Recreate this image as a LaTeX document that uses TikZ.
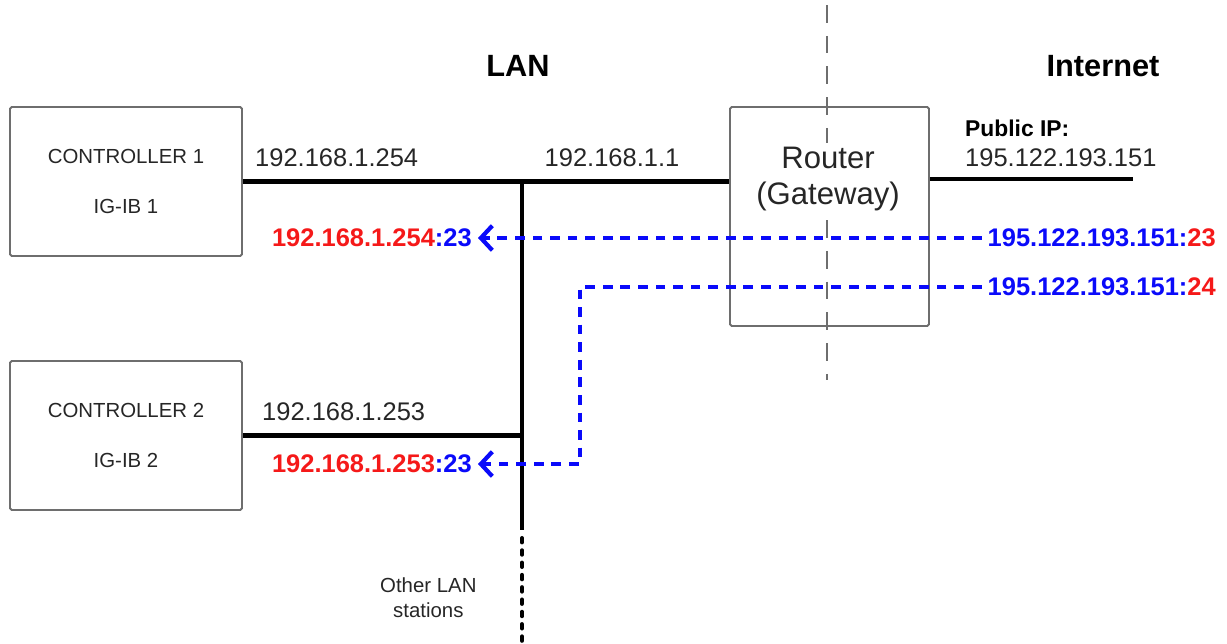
\documentclass[tikz,border=0pt]{standalone}
\usepackage{fontspec}
\setmainfont{Liberation Sans}
\usepackage{tikz}
\usetikzlibrary{arrows.meta,positioning}

\definecolor{ipred}{RGB}{245,25,25}
\definecolor{ipblue}{RGB}{10,10,250}
\definecolor{boxgray}{RGB}{110,110,110}

\begin{document}
\begin{tikzpicture}[x=0.02cm,y=-0.02cm,
  ctrl/.style={draw=boxgray,line width=1.1pt,rounded corners=1pt,
               minimum width=4.64cm,minimum height=2.98cm,align=center,
               text=black!85,font=\fontsize{11.6}{28.9}\selectfont},
  rtrbox/.style={draw=boxgray,line width=1.1pt,rounded corners=1pt,
                 minimum width=3.98cm,minimum height=4.38cm},
  ip/.style={font=\fontsize{14.5}{17}\selectfont,text=black!85},
  fwd/.style={font=\bfseries\fontsize{14.5}{17}\selectfont},
  head/.style={font=\bfseries\fontsize{17.5}{20}\selectfont},
  wire/.style={line width=2.3pt},
  nat/.style={draw=ipblue,line width=2.3pt,dash pattern=on 5.5pt off 4.5pt,
              -{Straight Barb[length=6.5pt,width=14pt,line width=2.4pt]}}
]
\useasboundingbox (0,0) rectangle (1227,643);

% boxes
\node[ctrl] (ctrla) at (126,181.5) {CONTROLLER 1\\IG-IB 1};
\node[ctrl] (ctrlb) at (126,435.5) {CONTROLLER 2\\IG-IB 2};
\node[rtrbox] (rtr) at (829.5,216.5) {};

% LAN / Internet divider
\coordinate (divtop) at (827,5);
\coordinate (divbot) at (827,380);
\draw[boxgray,line width=1.2pt,dash pattern=on 10pt off 7.5pt] (divtop) -- (divbot);
\node[align=center,fill=white,inner sep=2pt,text=black!85,
      font=\fontsize{17.7}{21}\selectfont] (rtrtxt) at (828,179) {Router\\(Gateway)};

\node[head] (lan) at (518,66) {LAN};
\node[head] (inet) at (1103,66) {Internet};

% wiring
\coordinate (bustop) at (522,182);
\coordinate (busend) at (522,530);
\coordinate (busdot) at (522,643);
\coordinate (wan) at (1133,179);
\draw[wire] (ctrla.east) -- (ctrla.east -| rtr.west);
\draw[wire] (bustop) -- (busend);
\draw[wire,line cap=round,dash pattern=on 2.5pt off 4.5pt] (busend) ++(0,8) -- (busdot);
\draw[wire] (ctrlb.east) -- (ctrlb.east -| bustop);
\draw[wire] (rtr.east |- wan) -- (wan);

% addresses
\node[ip,anchor=west] (ipa) at (249,158) {192.168.1.254};
\node[ip] (ipgw) at (612,158) {192.168.1.1};
\node[ip,anchor=west] (ipb) at (256,412) {192.168.1.253};
\node[ip,anchor=west] (pubip) at (959,158) {195.122.193.151};
\node[anchor=west,font=\bfseries\fontsize{13}{15}\selectfont] (publbl) at (959,128) {Public IP:};
\node[ip,anchor=west,font=\fontsize{11.6}{14}\selectfont,align=center] (other) at (374,598) {Other LAN\\stations};

% port forwarding
\node[fwd,anchor=east] (lana) at (478,238) {\textcolor{ipred}{192.168.1.254}\textcolor{ipblue}{:23}};
\node[fwd,anchor=east] (lanb) at (478,464) {\textcolor{ipred}{192.168.1.253}\textcolor{ipblue}{:23}};
\node[fwd,anchor=east] (puba) at (1222,238) {\textcolor{ipblue}{195.122.193.151:}\textcolor{ipred}{23}};
\node[fwd,anchor=east] (pubb) at (1222,287) {\textcolor{ipblue}{195.122.193.151:}\textcolor{ipred}{24}};
\coordinate (turn) at (580,464);

\draw[nat] (puba.west) -- (lana.east);
\draw[nat] (pubb.west) -| (turn) -- (lanb.east);
\end{tikzpicture}
\end{document}
